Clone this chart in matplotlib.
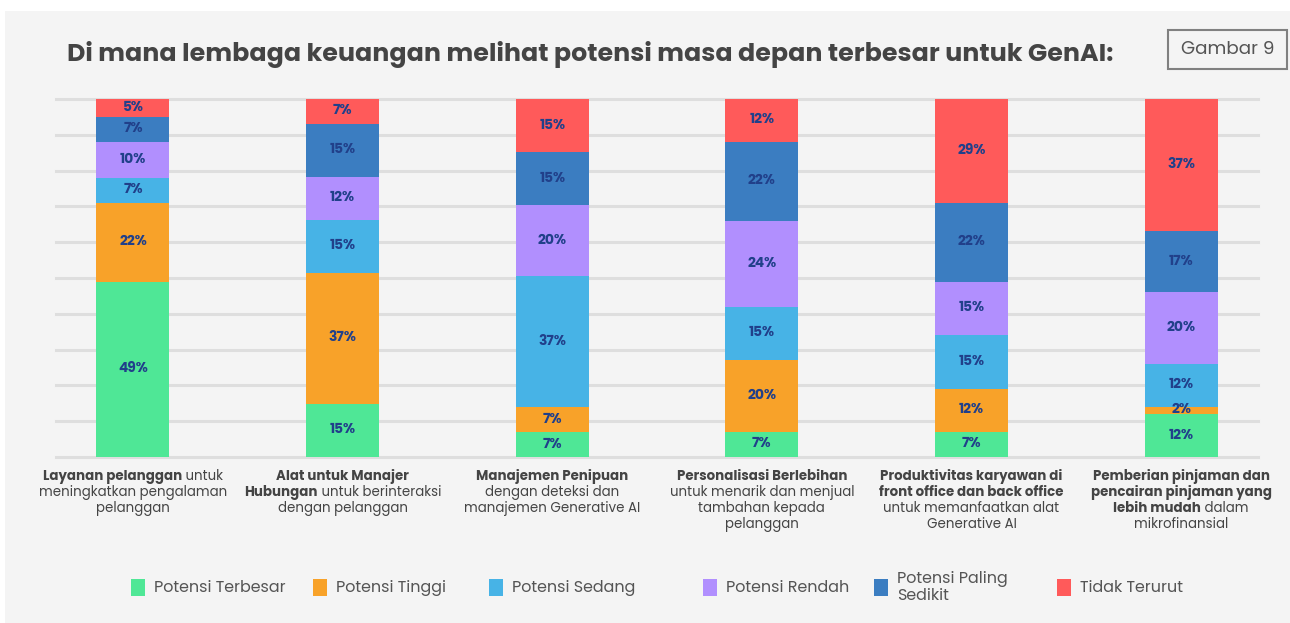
import numpy as np
import matplotlib.pyplot as plt
from matplotlib.patches import Rectangle

# data
series = ["Potensi Terbesar", "Potensi Tinggi", "Potensi Sedang",
          "Potensi Rendah", "Potensi Paling\nSedikit", "Tidak Terurut"]
colors = ["#4fe796", "#f8a229", "#47b3e6", "#b18ffe", "#3b7dc1", "#ff5a5a"]

terbesar = [49, 15, 7, 7, 7, 12]
tinggi = [22, 37, 7, 20, 12, 2]
sedang = [7, 15, 37, 15, 15, 12]
rendah = [10, 12, 20, 24, 15, 20]
sedikit = [7, 15, 15, 22, 22, 17]
tidak = [5, 7, 15, 12, 29, 37]

# category labels: lines of (text, bold) pieces
categories = [
    [[("Layanan pelanggan", True), (" untuk", False)],
     [("meningkatkan pengalaman", False)],
     [("pelanggan", False)]],
    [[("Alat untuk Manajer", True)],
     [("Hubungan", True), (" untuk berinteraksi", False)],
     [("dengan pelanggan", False)]],
    [[("Manajemen Penipuan", True)],
     [("dengan deteksi dan", False)],
     [("manajemen Generative AI", False)]],
    [[("Personalisasi Berlebihan", True)],
     [("untuk menarik dan menjual", False)],
     [("tambahan kepada", False)],
     [("pelanggan", False)]],
    [[("Produktivitas karyawan di", True)],
     [("front office dan back office", True)],
     [("untuk memanfaatkan alat", False)],
     [("Generative AI", False)]],
    [[("Pemberian pinjaman dan", True)],
     [("pencairan pinjaman yang", True)],
     [("lebih mudah", True), (" dalam", False)],
     [("mikrofinansial", False)]],
]

title = "Di mana lembaga keuangan melihat potensi masa depan terbesar untuk GenAI:"

plt.rcParams['font.family'] = ['Poppins', 'Lato', 'DejaVu Sans']

W, H = 1290, 623
fig = plt.figure(figsize=(W / 100, H / 100), dpi=100)
fig.patch.set_facecolor("white")
fig.patches.append(Rectangle((5 / W, 0), 1, 1 - 11 / H, transform=fig.transFigure,
                             facecolor="#f4f4f4", edgecolor="none", zorder=-10))

ax = fig.add_axes([56 / W, (H - 457) / H, (1258 - 56) / W, (457 - 99) / H])
ax.set_facecolor("none")
ax.set_xlim(-0.367, 5.367)
ax.set_ylim(0, 100)
for s in ax.spines.values():
    s.set_visible(False)
ax.set_xticks([])
ax.set_yticks([])
for g in range(0, 101, 10):
    ax.axhline(g, color="#dedede", lw=2.2, zorder=0, clip_on=False)

data = np.array([terbesar, tinggi, sedang, rendah, sedikit, tidak], dtype=float)
x = np.arange(len(categories))
totals = data.sum(axis=0)
bottom = np.zeros(len(categories))
for i, row in enumerate(data):
    h = row / totals * 100
    ax.bar(x, h, bottom=bottom, width=0.348, color=colors[i], zorder=2)
    for j in range(len(x)):
        ax.text(x[j], bottom[j] + h[j] / 2, "%d%%" % row[j], ha="center", va="center",
                fontsize=10, fontweight="bold", color="#21408a", zorder=3)
    bottom += h

fig.text(67 / W, 1 - 54 / H, title, fontsize=18.2, fontweight="bold",
         color="#444444", va="center", ha="left")

fig.patches.append(Rectangle((1168 / W, 1 - 69 / H), 119 / W, 39 / H, transform=fig.transFigure,
                             facecolor="none", edgecolor="#808080", lw=1.5))
fig.text(1228 / W, 1 - 50 / H, "Gambar 9", fontsize=13.2, color="#555555",
         ha="center", va="center")

# category labels with mixed bold/regular
renderer = fig.canvas.get_renderer()
fs = 9.6
for j, lines in enumerate(categories):
    cx = ax.transData.transform((x[j], 0))[0]
    for k, pieces in enumerate(lines):
        y = 1 - (477 + 16 * k) / H
        texts = []
        widths = []
        for txt, b in pieces:
            t = fig.text(0, y, txt, fontsize=fs, fontweight="bold" if b else "normal",
                         color="#444444", va="center", ha="left")
            texts.append(t)
            widths.append(t.get_window_extent(renderer).width)
        total = sum(widths)
        xpos = cx - total / 2
        for t, wdt in zip(texts, widths):
            t.set_x(xpos / W)
            xpos += wdt

# legend
sq_x = [131, 313, 489, 703, 874, 1057]
for i, name in enumerate(series):
    fig.patches.append(Rectangle((sq_x[i] / W, 1 - 596 / H), 14 / W, 17 / H,
                                 transform=fig.transFigure, facecolor=colors[i],
                                 edgecolor="none"))
    fig.text((sq_x[i] + 23) / W, 1 - 587.5 / H, name, fontsize=11.5, color="#555555",
             va="center", ha="left", linespacing=1.1)

fig.savefig("out.png", dpi=100, facecolor=fig.get_facecolor())
